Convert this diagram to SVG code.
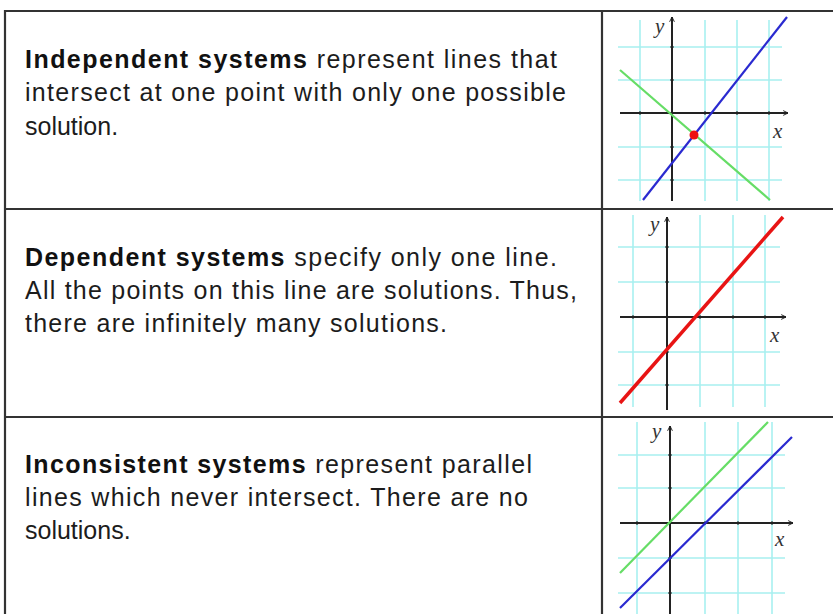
<svg xmlns="http://www.w3.org/2000/svg" width="833" height="614" viewBox="0 0 833 614">
<defs>
<style>
.txt{font-family:"Liberation Sans",Arial,sans-serif;font-size:25px;fill:#1c1c1c}
.b{font-weight:bold;fill:#111}
.border{stroke:#333;stroke-width:2.2;fill:none}
.grid{stroke:#a8f0f0;stroke-width:1.6;fill:none}
.axis{stroke:#222;stroke-width:2;fill:none}
.lbl{font-family:"Liberation Serif","Times New Roman",serif;font-style:italic;font-size:21px;fill:#333}
</style>
<marker id="arr" viewBox="0 0 10 10" refX="9" refY="5" markerWidth="6" markerHeight="6" orient="auto" markerUnits="userSpaceOnUse">
<path d="M1,1 L9,5 L1,9" fill="none" stroke="#222" stroke-width="1.6"/>
</marker>
</defs>
<rect width="833" height="614" fill="#fff"/>
<g id="table">
<line class="border" x1="4" y1="11" x2="833" y2="11"/>
<line class="border" x1="5" y1="10" x2="5" y2="614"/>
<line class="border" x1="602" y1="10" x2="602" y2="614"/>
<line class="border" x1="4" y1="209" x2="833" y2="209"/>
<line class="border" x1="4" y1="417" x2="833" y2="417"/>
</g>
<g id="row1-text">
<text class="txt" x="25" y="68" textLength="532" lengthAdjust="spacing"><tspan class="b">Independent systems</tspan> represent lines that</text>
<text class="txt" x="25" y="101" textLength="541" lengthAdjust="spacing">intersect at one point with only one possible</text>
<text class="txt" x="25" y="135">solution.</text>
</g>
<g id="row2-text">
<text class="txt" x="25" y="266" textLength="532" lengthAdjust="spacing"><tspan class="b">Dependent systems</tspan> specify only one line.</text>
<text class="txt" x="25" y="299" textLength="552" lengthAdjust="spacing">All the points on this line are solutions. Thus,</text>
<text class="txt" x="25" y="332" textLength="422" lengthAdjust="spacing">there are infinitely many solutions.</text>
</g>
<g id="row3-text">
<text class="txt" x="25" y="473" textLength="507" lengthAdjust="spacing"><tspan class="b">Inconsistent systems</tspan> represent parallel</text>
<text class="txt" x="25" y="506" textLength="503" lengthAdjust="spacing">lines which never intersect. There are no</text>
<text class="txt" x="25" y="539">solutions.</text>
</g>
<g id="graph1">
<path class="grid" d="M640,20V201M705,20V201M737,20V201M769,20V201M618,47H782M618,80H782M618,147H782M618,180H782"/>
<line class="axis" x1="620" y1="113" x2="788" y2="113" marker-end="url(#arr)"/>
<line class="axis" x1="672" y1="201" x2="672" y2="17" marker-end="url(#arr)"/>
<path class="axis" stroke-width="3" d="M640,111.5v3M705,111.5v3M737,111.5v3M769,111.5v3M670.5,47h3M670.5,80h3M670.5,147h3M670.5,180h3"/>
<text class="lbl" x="655" y="33">y</text>
<text class="lbl" x="773" y="138">x</text>
<line x1="643" y1="200" x2="787" y2="17" stroke="#2a2ad0" stroke-width="2.2"/>
<line x1="620" y1="70" x2="770" y2="200" stroke="#66dd66" stroke-width="2.2"/>
<circle cx="694" cy="135" r="4.5" fill="#ee1111"/>
</g>
<g id="graph2">
<path class="grid" d="M633,215V407M700,215V407M733,215V407M765,215V407M618,247H780M618,282H780M618,352H780M618,385H780"/>
<line class="axis" x1="620" y1="317" x2="786" y2="317" marker-end="url(#arr)"/>
<line class="axis" x1="667" y1="410" x2="667" y2="217" marker-end="url(#arr)"/>
<path class="axis" stroke-width="3" d="M633,315.5v3M700,315.5v3M733,315.5v3M765,315.5v3M665.5,247h3M665.5,282h3M665.5,352h3M665.5,385h3"/>
<text class="lbl" x="650" y="231">y</text>
<text class="lbl" x="770" y="342">x</text>
<line x1="620" y1="403" x2="783" y2="217" stroke="#e81414" stroke-width="3.5"/>
</g>
<g id="graph3">
<path class="grid" d="M637,422V614M705,422V614M738,422V614M772,422V614M618,455H785M618,488H785M618,558H785M618,593H785"/>
<line class="axis" x1="620" y1="523" x2="793" y2="523" marker-end="url(#arr)"/>
<line class="axis" x1="670" y1="614" x2="670" y2="426" marker-end="url(#arr)"/>
<path class="axis" stroke-width="3" d="M637,521.5v3M705,521.5v3M738,521.5v3M772,521.5v3M668.5,455h3M668.5,488h3M668.5,558h3M668.5,593h3"/>
<text class="lbl" x="652" y="438">y</text>
<text class="lbl" x="775" y="546">x</text>
<line x1="620" y1="573" x2="768" y2="422" stroke="#66dd66" stroke-width="2.2"/>
<line x1="620" y1="608" x2="792" y2="437" stroke="#2a2ad0" stroke-width="2.2"/>
</g>
</svg>
